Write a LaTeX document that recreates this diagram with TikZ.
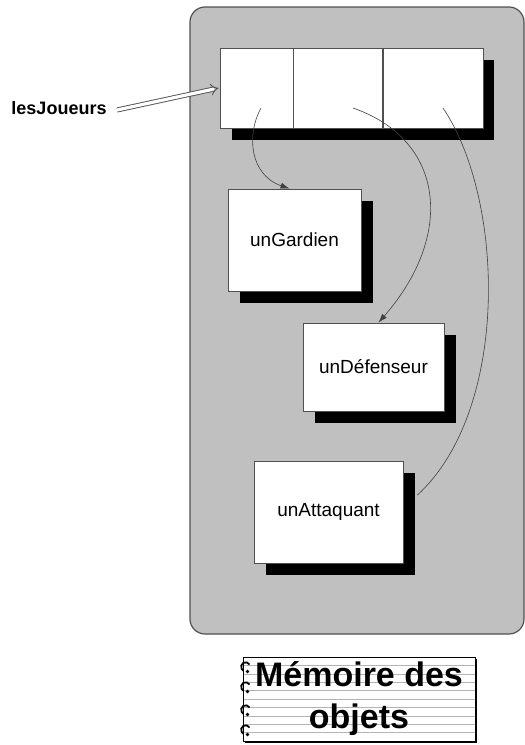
\documentclass[tikz,border=0pt]{standalone}
\usepackage{fontspec}
\setmainfont{Liberation Sans}
\usetikzlibrary{arrows.meta,shadows,calc}
\definecolor{memgris}{HTML}{C0C0C0}
\definecolor{bordgris}{HTML}{505050}
\definecolor{lignegris}{HTML}{B4B4B4}

\begin{document}
\begin{tikzpicture}[x=1pt,y=-1pt,
  font=\fontsize{19}{22}\selectfont,
  objbox/.style={draw=bordgris,line width=0.8pt,fill=white,inner sep=0pt,
    general shadow={fill=black,shadow xshift=12pt,shadow yshift=-12pt}},
  cell/.style={draw=bordgris,line width=0.8pt,fill=white,minimum height=80pt,inner sep=0pt,anchor=north west},
  lien/.style={draw=black!75,line width=0.6pt},
  carnet/.style={draw=black,line width=1pt,fill=white,inner sep=0pt,align=center,
    general shadow={fill=black,shadow xshift=2pt,shadow yshift=-2pt},
    path picture={\foreach \k in {1,...,9}
      \draw[lignegris,line width=0.5pt]
        ($(path picture bounding box.north west)!{\k/10}!(path picture bounding box.south west)$) --
        ($(path picture bounding box.north east)!{\k/10}!(path picture bounding box.south east)$);}},
  >={Latex[length=9pt,width=6pt]}]
\useasboundingbox (0,0) rectangle (525,745);
% zone memoire
\draw[bordgris,line width=1.2pt,fill=memgris,rounded corners=15pt] (190,7) rectangle (524,634);
% tableau lesJoueurs
\node[objbox,minimum width=262pt,minimum height=80pt] (tab) at (351,88) {};
\node[cell,minimum width=73pt] (c1) at (tab.north west) {};
\node[cell,minimum width=89pt] (c2) at (c1.north east) {};
\node[cell,minimum width=100pt] (c3) at (c2.north east) {};
% objets
\node[objbox,minimum width=133pt,minimum height=102pt] (gardien) at (294.5,240) {unGardien};
\node[objbox,minimum width=141pt,minimum height=88pt] (defenseur) at (373.5,367) {unDéfenseur};
\node[objbox,minimum width=149pt,minimum height=102pt] (attaquant) at (328.5,512) {unAttaquant};
% reference
\node[font=\bfseries\fontsize{18}{21}\selectfont] (joueurs) at (59,108) {lesJoueurs};
\draw[draw=bordgris,double=white,double distance=3.2pt,line width=0.9pt,-{Implies[length=7pt]}] ([xshift=7pt,yshift=-2pt]joueurs.east) -- ([xshift=-1pt]c1.west);
% liens
\coordinate (d1) at (261,108);
\coordinate (d2) at (353,108);
\coordinate (d3) at (443,108);
\draw[lien,->] (d1) .. controls (246,135) and (250,175) .. ([xshift=-5pt]gardien.north);
\draw[lien,->] (d2) .. controls (445,140) and (455,235) .. ([xshift=5pt]defenseur.north);
\draw[lien] (d3) .. controls (505,200) and (510,410) .. ([shift={(14pt,17pt)}]attaquant.east);
% titre
\node[carnet,minimum width=232pt,minimum height=84pt,font=\bfseries\fontsize{34}{42}\selectfont] (titre) at (359,699) {Mémoire des\\objets};
\foreach \y in {11,31,54,74} {
  \draw[line width=1.8pt] ($(titre.north west)+(7,\y-3)$) arc[start angle=30,end angle=240,radius=4.5pt];
  \fill ($(titre.north west)+(5,\y+4)$) circle[radius=1.8pt];
}
\end{tikzpicture}
\end{document}
